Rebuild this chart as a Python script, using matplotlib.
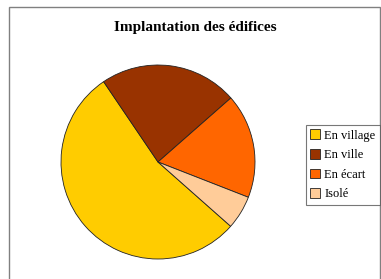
#!/usr/bin/env python3
import matplotlib
matplotlib.use('Agg')
import matplotlib.pyplot as plt
from matplotlib.patches import Rectangle, Patch

labels = ['En village', 'En ville', 'En écart', 'Isolé']
values = [54.0, 23.0, 17.4, 5.6]
colors = ['#FFCC00', '#993300', '#FF6600', '#FFCC99']

W, H = 381, 279
fig = plt.figure(figsize=(W / 100, H / 100), dpi=100)
fig.patch.set_facecolor('white')

# outer gray frame
fig.patches.append(Rectangle((9 / W, -0.05), (379.5 - 9) / W, 1.05 - 7 / H,
                             transform=fig.transFigure, fill=False,
                             edgecolor='#808080', linewidth=1.0))

fig.text(195 / W, 1 - 27 / H, 'Implantation des édifices',
         ha='center', va='center', fontsize=11, fontweight='bold',
         family='Liberation Serif')

# pie axes: centre (158,162), radius ~97 px
cx, cy, r = 158, 162, 97
ax = fig.add_axes([(cx - r) / W, (H - cy - r) / H, 2 * r / W, 2 * r / H])
ax.pie(values, colors=colors, startangle=-41.5, counterclock=False,
       wedgeprops=dict(edgecolor='#222222', linewidth=0.6))
ax.set_xlim(-1, 1)
ax.set_ylim(-1, 1)
ax.set_aspect('auto')

handles = [Patch(facecolor=c, edgecolor='#222222', linewidth=0.6) for c in colors]
leg = fig.legend(handles, labels, loc='upper left',
                 bbox_to_anchor=(306 / W, 1 - 125 / H),
                 prop={'family': 'Liberation Serif', 'size': 9},
                 frameon=True, fancybox=False, edgecolor='#555555',
                 handlelength=0.8, handleheight=0.8, handletextpad=0.3,
                 borderpad=0.35, labelspacing=0.6, borderaxespad=0)
leg.get_frame().set_linewidth(0.8)

fig.savefig('out.png', dpi=100)
